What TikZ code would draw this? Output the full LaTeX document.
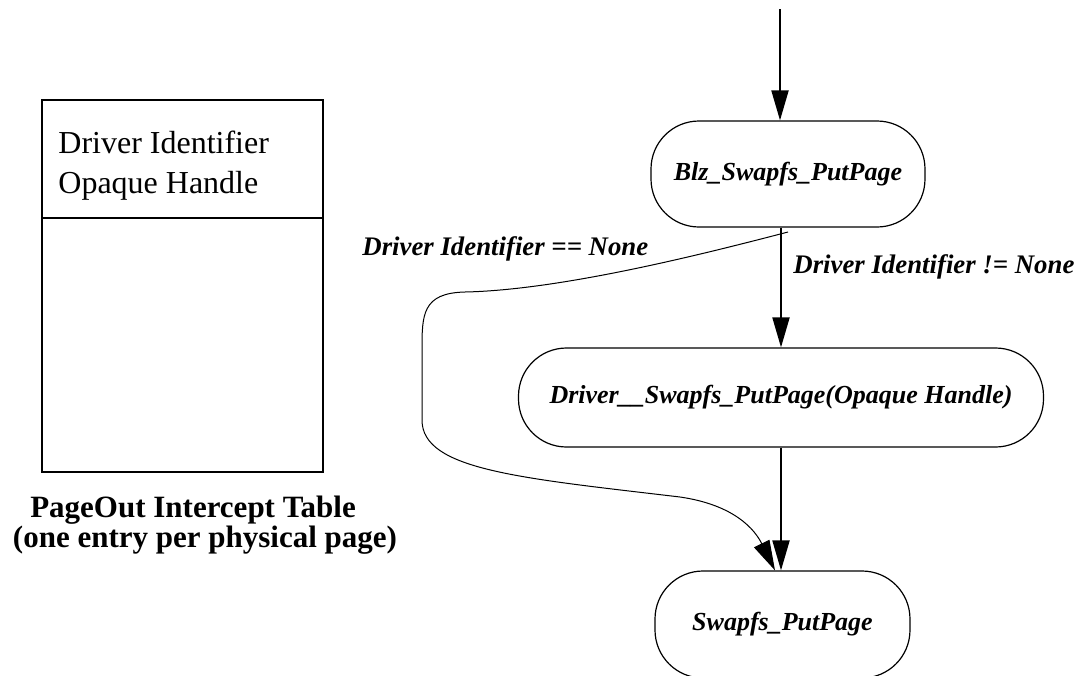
\documentclass[tikz,border=0pt]{standalone}
\usepackage{fontspec}
\setmainfont{Liberation Serif}
\usetikzlibrary{arrows.meta,positioning}

\begin{document}
\begin{tikzpicture}[x=0.5pt,y=-0.5pt,
  proc/.style={draw,line width=0.6pt,rounded corners=24pt,inner sep=0pt,font=\fontsize{13}{15}\selectfont\bfseries\itshape},
  flow/.style={line width=1pt,-{Triangle[length=15pt,width=8.5pt]}},
  cond/.style={anchor=base west,inner sep=0pt,font=\fontsize{13.4}{15}\selectfont\bfseries\itshape},
  field/.style={anchor=base west,inner sep=0pt,font=\fontsize{16}{20}\selectfont},
  caption/.style={anchor=base,inner sep=0pt,font=\fontsize{15.5}{15}\selectfont\bfseries}]
\useasboundingbox (0,0) rectangle (1082,675);
\clip (0,0) rectangle (1082,675);

% intercept table
\draw[line width=1pt] (42,100) rectangle (323,472);
\draw[line width=1pt] (42,218) -- (323,218);
\node[field] (drvid) at (58,153) {Driver Identifier};
\node[field] (handle) at (58,193) {Opaque Handle};
\node[caption] (tabname) at (193,517) {PageOut Intercept Table};
\node[caption] (tabnote) at (205,547) {(one entry per physical page)};

% call chain
\node[proc,minimum width=137pt,minimum height=53pt] (blz) at (788,174) {Blz\_Swapfs\_PutPage};
\node[proc,minimum width=262.5pt,minimum height=49.5pt] (drv) at (781,397.5) {Driver\_\_Swapfs\_PutPage(Opaque Handle)};
\node[proc,minimum width=127.5pt,minimum height=53.5pt] (swp) at (782.5,624.5) {Swapfs\_PutPage};

\coordinate (entry) at (780,9);
\coordinate (split) at (788,232);
\draw[flow] (entry) -- (entry |- blz.north);
\draw[flow] (blz.south -| drv.north) -- (drv.north);
\draw[flow] (drv.south) -- (drv.south |- swp.north);
\draw[flow,line width=0.5pt] (split) .. controls (700,255) and (560,290) .. (465,292)
  .. controls (422,293) and (422,315) .. (422,350) -- (422,420)
  .. controls (422,470) and (520,478) .. (680,497)
  .. controls (735,505) and (755,530) .. ([xshift=-3.75pt]swp.north);

\node[cond] (isnone) at (362,255) {Driver Identifier == None};
\node[cond] (notnone) at (793,273) {Driver Identifier != None};
\end{tikzpicture}
\end{document}
